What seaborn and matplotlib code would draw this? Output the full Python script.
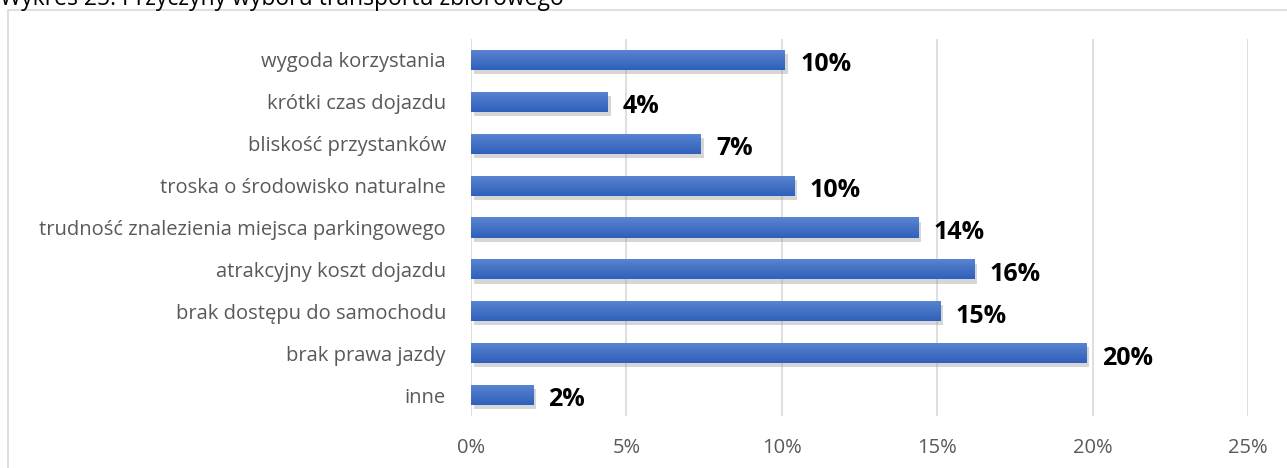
import matplotlib
matplotlib.use("Agg")
import matplotlib.pyplot as plt
import matplotlib.patheffects as pe
from matplotlib.lines import Line2D
from matplotlib.colors import LinearSegmentedColormap
from matplotlib.ticker import PercentFormatter
import numpy as np
import pandas as pd
import seaborn as sns

# Reasons for choosing public transport (share of answers)
categories = [
    "wygoda korzystania",
    "krótki czas dojazdu",
    "bliskość przystanków",
    "troska o środowisko naturalne",
    "trudność znalezienia miejsca parkingowego",
    "atrakcyjny koszt dojazdu",
    "brak dostępu do samochodu",
    "brak prawa jazdy",
    "inne",
]
shares = [0.101, 0.044, 0.074, 0.104, 0.144, 0.162, 0.151, 0.198, 0.020]
x_ticks = [0.0, 0.05, 0.10, 0.15, 0.20, 0.25]
title = "Wykres 25. Przyczyny wyboru transportu zbiorowego"

df = pd.DataFrame({"powod": categories, "udzial": shares})

sns.set_theme(style="white")
plt.rcParams["font.family"] = ["Open Sans", "DejaVu Sans"]

W, H = 1287, 468
fig = plt.figure(figsize=(W / 100, H / 100), dpi=100)
ax = fig.add_axes([471 / W, 1 - 416 / H, (1248 - 471) / W, (416 - 39) / H])

sns.barplot(data=df, x="udzial", y="powod", orient="h", color="#4472C4",
            saturation=1, width=0.48, ax=ax, zorder=3)

ax.set_xlim(0, 0.25)
ylim = ax.get_ylim()

# soft drop shadow plus a light-to-dark vertical gradient on each bar
shadow = [pe.SimplePatchShadow(offset=(2, -3), shadow_rgbFace="#8c8c8c", alpha=0.35), pe.Normal()]
grad_cmap = LinearSegmentedColormap.from_list("bar_grad", ["#5B86D3", "#4472C4", "#3060BD"])
grad = np.linspace(0, 1, 64).reshape(-1, 1)
for bar in ax.patches:
    bar.set_path_effects(shadow)
    bar.set_edgecolor("none")
    x0, y0 = bar.get_x(), bar.get_y()
    w, h = bar.get_width(), bar.get_height()
    im = ax.imshow(grad, cmap=grad_cmap, aspect="auto", origin="upper",
                   extent=(x0, x0 + w, y0 + h, y0), zorder=3.5, interpolation="bilinear")
    im.set_clip_path(bar)

ax.set_xlim(0, 0.25)
ax.set_ylim(ylim)
ax.set_xticks(x_ticks)
ax.xaxis.set_major_formatter(PercentFormatter(1.0, decimals=0))
ax.grid(axis="x", color="#D9D9D9", linewidth=1.2, zorder=0)
ax.set_axisbelow(True)
for s in ax.spines.values():
    s.set_visible(False)
ax.set_xlabel("")
ax.set_ylabel("")
ax.tick_params(axis="x", length=0, pad=16, labelsize=14.5, labelcolor="#595959")
ax.tick_params(axis="y", length=0, pad=18, labelsize=14.5, labelcolor="#595959")

# value labels, nudged slightly below the bar centre line
for container in ax.containers:
    texts = ax.bar_label(container, labels=[f"{v:.0%}" for v in shares], padding=11,
                         fontsize=18, fontweight="bold", color="black", zorder=5)
    for t in texts:
        dx, dy = t.xyann
        t.xyann = (dx, dy - 3.5)

# chart frame
fig.add_artist(Line2D([8 / W, 1.0], [1 - 10 / H, 1 - 10 / H], color="#D9D9D9", linewidth=1.2))
fig.add_artist(Line2D([8 / W, 8 / W], [1 - 10 / H, 0.0], color="#D9D9D9", linewidth=1.2))

fig.text(0.0, 1 - 5 / H, title, ha="left", va="baseline", fontsize=16.5, color="black")

fig.savefig("out.png", dpi=100)
